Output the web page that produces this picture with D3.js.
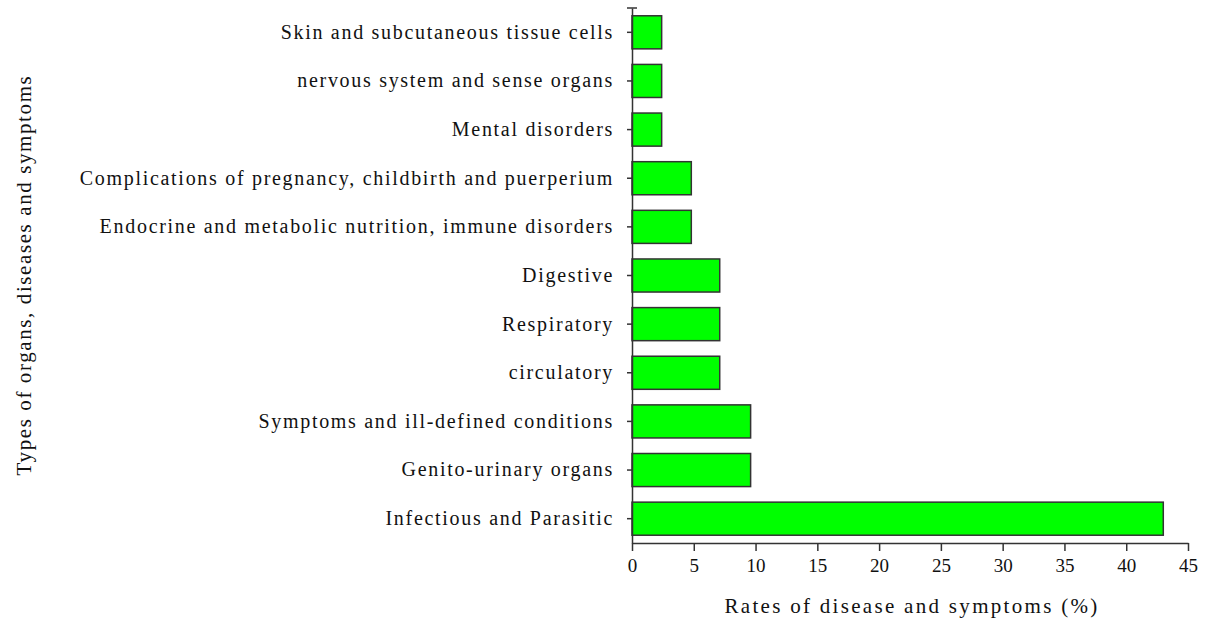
<!DOCTYPE html>
<html>
<head>
<meta charset="utf-8">
<script src="https://cdn.jsdelivr.net/npm/d3@7"></script>
<style>
  body { margin: 0; background: #fff; }
  text { font-family: "Liberation Serif", "DejaVu Serif", serif; fill: #111; }
</style>
</head>
<body>
<div id="chart"></div>
<script>
var categories = [
  'Skin and subcutaneous tissue cells',
  'nervous system and sense organs',
  'Mental disorders',
  'Complications of pregnancy, childbirth and puerperium',
  'Endocrine and metabolic nutrition, immune disorders',
  'Digestive',
  'Respiratory',
  'circulatory',
  'Symptoms and ill-defined conditions',
  'Genito-urinary organs',
  'Infectious and Parasitic'
];
var rates = [2.4, 2.4, 2.4, 4.8, 4.8, 7.1, 7.1, 7.1, 9.6, 9.6, 43.0];
var xTicks = [0, 5, 10, 15, 20, 25, 30, 35, 40, 45];

var w = 1209;
var h = 623;
var plotLeft = 632, plotRight = 1188, plotTop = 8, plotBottom = 543;

var svg = d3.select('#chart').append('svg')
  .attr('width', w)
  .attr('height', h);

var x = d3.scaleLinear().domain([0, 45]).range([plotLeft, plotRight]);
var y = d3.scaleBand().domain(categories).range([plotTop, plotBottom]).paddingInner(0.32).paddingOuter(0.16);

// bars
svg.selectAll('.bar')
  .data(categories)
  .enter()
  .append('rect')
  .attr('class', 'bar')
  .attr('x', x(0))
  .attr('y', function (d) { return y(d); })
  .attr('width', function (d, i) { return x(rates[i]) - x(0); })
  .attr('height', y.bandwidth())
  .attr('fill', '#00ff00')
  .attr('stroke', '#333')
  .attr('stroke-width', 1.5);

// x axis
var xAxis = svg.append('g')
  .attr('transform', 'translate(0,' + plotBottom + ')')
  .call(d3.axisBottom(x).tickValues(xTicks).tickSize(8).tickPadding(8).tickSizeOuter(0));

// y axis
var yAxis = svg.append('g')
  .attr('transform', 'translate(' + plotLeft + ',0)')
  .call(d3.axisLeft(y).tickSize(5).tickPadding(13).tickSizeOuter(0));

svg.selectAll('.domain, .tick line').attr('stroke', '#333').attr('stroke-width', 1.5);
svg.selectAll('.tick text')
  .attr('font-family', '"Liberation Serif", serif')
  .attr('fill', '#111');
xAxis.selectAll('.tick text').attr('font-size', '19px');
yAxis.selectAll('.tick text')
  .attr('font-size', '20px')
  .attr('letter-spacing', '1.7px');

// small cap at top of y axis
svg.append('line')
  .attr('x1', plotLeft - 5).attr('x2', plotLeft + 5)
  .attr('y1', plotTop).attr('y2', plotTop)
  .attr('stroke', '#333').attr('stroke-width', 1.5);

// axis titles
svg.append('text')
  .attr('x', 912)
  .attr('y', 613)
  .attr('text-anchor', 'middle')
  .attr('font-size', '21px')
  .attr('letter-spacing', '2.3px')
  .text('Rates of disease and symptoms (%)');

svg.append('text')
  .attr('transform', 'translate(31,' + 275 + ') rotate(-90)')
  .attr('text-anchor', 'middle')
  .attr('font-size', '21px')
  .attr('letter-spacing', '1.6px')
  .text('Types of organs, diseases and symptoms');
</script>
</body>
</html>
